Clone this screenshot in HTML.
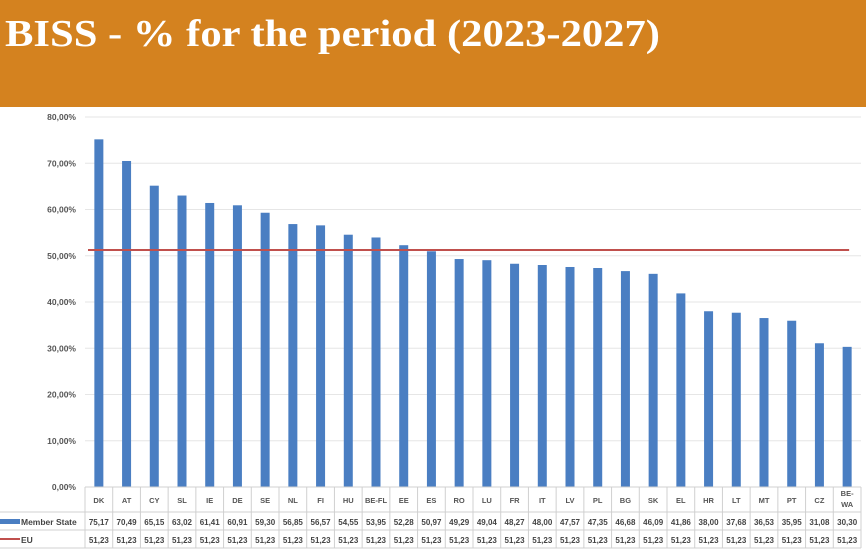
<!DOCTYPE html>
<html><head><meta charset="utf-8"><style>
html,body{margin:0;padding:0;background:#fff;}
body{width:866px;height:552px;overflow:hidden;position:relative;font-family:"Liberation Sans",sans-serif;}
#hdr{position:absolute;left:0;top:0;width:866px;height:107px;background:#D4821F;}
</style></head><body>
<div id="hdr"></div>
<svg id="chart" width="866" height="552" style="position:absolute;left:0;top:0">
<text x="5" y="46" fill="#fff" font-family="Liberation Serif, serif" font-weight="bold" font-size="38" textLength="655" lengthAdjust="spacingAndGlyphs">BISS - % for the period (2023-2027)</text>
</svg>
<script>
const categories=["DK","AT","CY","SL","IE","DE","SE","NL","FI","HU","BE-FL","EE","ES","RO","LU","FR","IT","LV","PL","BG","SK","EL","HR","LT","MT","PT","CZ","BE-WA"];
const memberValues=[75.17,70.49,65.15,63.02,61.41,60.91,59.30,56.85,56.57,54.55,53.95,52.28,50.97,49.29,49.04,48.27,48.00,47.57,47.35,46.68,46.09,41.86,38.00,37.68,36.53,35.95,31.08,30.30];
const euValues=[51.23,51.23,51.23,51.23,51.23,51.23,51.23,51.23,51.23,51.23,51.23,51.23,51.23,51.23,51.23,51.23,51.23,51.23,51.23,51.23,51.23,51.23,51.23,51.23,51.23,51.23,51.23,51.23];
const yTicks=[0,10,20,30,40,50,60,70,80];
const yTickLabels=["0,00%","10,00%","20,00%","30,00%","40,00%","50,00%","60,00%","70,00%","80,00%"];

const svg=document.getElementById('chart');
const NS='http://www.w3.org/2000/svg';
const x0=85,x1=861,y0=487,yTop=117;
const colW=(x1-x0)/categories.length;
const y=v=>y0-(v/80)*(y0-yTop);
const xc=i=>x0+colW*(i+0.5);
function mk(tag,attrs){const e=document.createElementNS(NS,tag);for(const k in attrs)e.setAttribute(k,attrs[k]);svg.appendChild(e);return e;}
function fmt(v){return v.toFixed(2).replace('.',',');}

yTicks.forEach((t,i)=>{
  const g=mk('line',{x1:x0,x2:x1,y1:y(t),y2:y(t),stroke:'#e6e6e6','stroke-width':1});
  
  
  const l=mk('text',{x:76,y:y(t)+3,'text-anchor':'end','font-size':'8.5','font-weight':'bold',fill:'#555'});
  l.textContent=yTickLabels[i];
  
  
});

memberValues.forEach((v,i)=>{
  const b=mk('rect',{x:xc(i)-4.5,y:y(v),width:9,height:y0-y(v),fill:'#4A7EC2'});
  
  
});

const pts=euValues.map((v,i)=>xc(i)+','+y(v));
pts[0]=(x0+3)+','+y(euValues[0]);
pts[pts.length-1]=(xc(euValues.length-1)+2)+','+y(euValues[euValues.length-1]);
const eu=mk('polyline',{points:pts.join(' '),fill:'none',stroke:'#C0504D','stroke-width':2});



const rows=[487,512,530,548];
rows.forEach((ry,i)=>{
  const x=i===0?x0:0;
  const l=mk('line',{x1:x,x2:x1,y1:ry,y2:ry,stroke:'#d0d0d0','stroke-width':1});
  
  
});
for(let i=0;i<=categories.length;i++){
  const xx=x0+colW*i;
  const l=mk('line',{x1:xx,x2:xx,y1:487,y2:548,stroke:'#d0d0d0','stroke-width':1});
  
  
}
categories.forEach((c,i)=>{
  if(c==='BE-WA'){
    ['BE-','WA'].forEach((p,k)=>{
      const t=mk('text',{x:xc(i),y:496+k*11,'text-anchor':'middle','font-size':'7.5','font-weight':'bold',fill:'#555'});
      t.textContent=p;
      
      
    });
  }else{
    const t=mk('text',{x:xc(i),y:503,'text-anchor':'middle','font-size':'7.5','font-weight':'bold',fill:'#555'});
    t.textContent=c;
    
    
  }
  const m=mk('text',{x:xc(i),y:525,'text-anchor':'middle','font-size':'8','font-weight':'bold',fill:'#444'});
  m.textContent=fmt(memberValues[i]);
  
  
  const e=mk('text',{x:xc(i),y:543,'text-anchor':'middle','font-size':'8','font-weight':'bold',fill:'#444'});
  e.textContent=fmt(euValues[i]);
  
  
});
const k1=mk('rect',{x:0,y:519,width:20,height:5,fill:'#4A7EC2'});


const k2=mk('rect',{x:0,y:538,width:20,height:2,fill:'#C0504D'});


const t1=mk('text',{x:21,y:525,'font-size':'8.5','font-weight':'bold',fill:'#444'});
t1.textContent='Member State';


const t2=mk('text',{x:21,y:543,'font-size':'8.5','font-weight':'bold',fill:'#444'});
t2.textContent='EU';


</script>
</body></html>
